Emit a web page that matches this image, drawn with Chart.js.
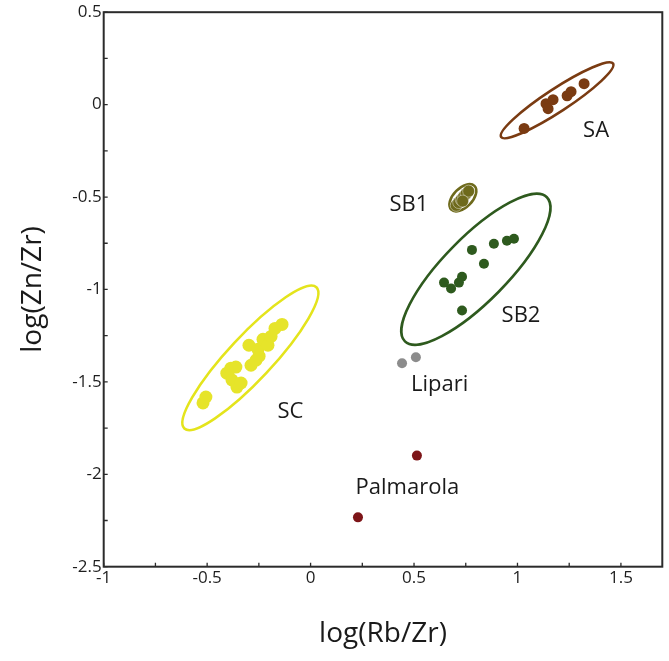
<!DOCTYPE html>
<html lang="en">
<head>
<meta charset="UTF-8">
<title>log(Zn/Zr) vs log(Rb/Zr)</title>
<script src="https://cdn.jsdelivr.net/npm/chart.js"></script>
<style>
  body { margin: 0; background: #fff; }
  .wrap { width: 669px; height: 661px; }
</style>
</head>
<body>
<div class="wrap"><canvas id="chart"></canvas></div>
<script>
// obsidian groups: log(Rb/Zr) on x, log(Zn/Zr) on y
const saX = [1.032, 1.138, 1.148, 1.172, 1.240, 1.259, 1.322];
const saY = [-0.129, 0.005, -0.022, 0.027, 0.048, 0.070, 0.113];

const sb1X = [0.704, 0.716, 0.728, 0.740, 0.752, 0.764, 0.735];
const sb1Y = [-0.545, -0.530, -0.514, -0.498, -0.482, -0.468, -0.522];

const sb2X = [0.645, 0.679, 0.717, 0.732, 0.780, 0.838, 0.886, 0.949, 0.983, 0.732];
const sb2Y = [-0.963, -0.995, -0.963, -0.931, -0.786, -0.861, -0.753, -0.737, -0.726, -1.114];

const scX = [-0.520, -0.506, -0.405, -0.385, -0.361, -0.380, -0.356, -0.336, -0.298,
             -0.288, -0.264, -0.249, -0.254, -0.230, -0.206, -0.191, -0.172, -0.138];
const scY = [-1.614, -1.582, -1.453, -1.426, -1.420, -1.490, -1.528, -1.506, -1.302,
             -1.410, -1.383, -1.361, -1.324, -1.270, -1.302, -1.254, -1.211, -1.189];

const lipariX = [0.442, 0.509];
const lipariY = [-1.399, -1.367];

const palmarolaX = [0.514, 0.229];
const palmarolaY = [-1.899, -2.233];

// group ellipses: the two ends of the long axis
const saEnds = [[0.921, -0.175], [1.462, 0.222]];
const sb1Ends = [[0.680, -0.568], [0.792, -0.440]];
const sb2Ends = [[0.456, -1.281], [1.142, -0.501]];
const scEnds = [[-0.610, -1.752], [0.028, -0.988]];

// group names
const groupNames = ['SA', 'SB1', 'SB2', 'SC', 'Lipari', 'Palmarola'];
const nameX = [1.380, 0.475, 1.017, -0.097, 0.624, 0.468];
const nameY = [-0.140, -0.544, -1.141, -1.660, -1.515, -2.075];

// tick positions (labels only on the halves)
const xTicks = [-1, -0.75, -0.5, -0.25, 0, 0.25, 0.5, 0.75, 1, 1.25, 1.5];
const yTicks = [-2.5, -2.25, -2, -1.75, -1.5, -1.25, -1, -0.75, -0.5, -0.25, 0, 0.25, 0.5];

const toPoints = (xs, ys) => xs.map((x, i) => ({ x: x, y: ys[i] }));

const ellipses = [
    { ends: saEnds, half: 11.5, color: '#7a3b12' },
    { ends: sb1Ends, half: 9.5, color: '#6e6a1c' },
    { ends: sb2Ends, half: 32, color: '#2e5a1e' },
    { ends: scEnds, half: 22, color: '#e4e41c' }
];

const fontFamily = "'Open Sans', sans-serif";
const onHalf = v => Math.abs(v * 2 - Math.round(v * 2)) < 1e-6;

const ellipsePlugin = {
    id: 'ellipses',
    beforeDatasetsDraw(chart) {
        const { ctx, scales: { x, y } } = chart;
        ellipses.forEach(e => {
            const x1 = x.getPixelForValue(e.ends[0][0]);
            const y1 = y.getPixelForValue(e.ends[0][1]);
            const x2 = x.getPixelForValue(e.ends[1][0]);
            const y2 = y.getPixelForValue(e.ends[1][1]);
            const rx = Math.hypot(x2 - x1, y2 - y1) / 2;
            ctx.save();
            ctx.beginPath();
            ctx.ellipse((x1 + x2) / 2, (y1 + y2) / 2, rx, e.half, Math.atan2(y2 - y1, x2 - x1), 0, Math.PI * 2);
            ctx.strokeStyle = e.color;
            ctx.lineWidth = 2.6;
            ctx.stroke();
            ctx.restore();
        });
    }
};

const namePlugin = {
    id: 'groupNames',
    afterDatasetsDraw(chart) {
        const { ctx, scales: { x, y } } = chart;
        ctx.save();
        ctx.font = '22px ' + fontFamily;
        ctx.fillStyle = '#1a1a1a';
        ctx.textAlign = 'center';
        ctx.textBaseline = 'middle';
        groupNames.forEach((n, i) => {
            ctx.fillText(n, x.getPixelForValue(nameX[i]), y.getPixelForValue(nameY[i]));
        });
        ctx.restore();
    }
};

// box round the plot with short inward ticks
const framePlugin = {
    id: 'frame',
    afterDraw(chart) {
        const { ctx, chartArea: a, scales: { x, y } } = chart;
        ctx.save();
        ctx.strokeStyle = '#2b2b2b';
        ctx.lineWidth = 1.3;
        ctx.beginPath();
        x.ticks.forEach(t => {
            const px = x.getPixelForValue(t.value);
            ctx.moveTo(px, a.bottom);
            ctx.lineTo(px, a.bottom - 4);
        });
        y.ticks.forEach(t => {
            const py = y.getPixelForValue(t.value);
            ctx.moveTo(a.left, py);
            ctx.lineTo(a.left + 4, py);
        });
        ctx.stroke();
        ctx.lineWidth = 2;
        ctx.strokeRect(a.left, a.top, a.right - a.left, a.bottom - a.top);
        ctx.restore();
    }
};

const tickLabel = v => onHalf(v) ? String(v) : '';

new Chart(document.getElementById('chart'), {
    type: 'scatter',
    data: {
        datasets: [
            { label: 'SA', data: toPoints(saX, saY), backgroundColor: '#7a3b12', pointRadius: 5.5, borderWidth: 0 },
            { label: 'SB1', data: toPoints(sb1X, sb1Y), backgroundColor: '#6e6a1c', borderColor: 'rgba(255,255,255,0.7)', pointRadius: 6, borderWidth: 0.6 },
            { label: 'SB2', data: toPoints(sb2X, sb2Y), backgroundColor: '#2e5a1e', pointRadius: 5, borderWidth: 0 },
            { label: 'SC', data: toPoints(scX, scY), backgroundColor: '#e6e42a', pointRadius: 6.5, borderWidth: 0 },
            { label: 'Lipari', data: toPoints(lipariX, lipariY), backgroundColor: '#8c8c8c', pointRadius: 5, borderWidth: 0 },
            { label: 'Palmarola', data: toPoints(palmarolaX, palmarolaY), backgroundColor: '#7d1518', pointRadius: 5, borderWidth: 0 }
        ]
    },
    options: {
        responsive: true,
        maintainAspectRatio: false,
        animation: false,
        layout: { padding: { left: 0, right: 6.7, top: 9, bottom: 0 } },
        plugins: {
            legend: { display: false },
            tooltip: { enabled: false }
        },
        scales: {
            x: {
                type: 'linear',
                min: -1,
                max: 1.7,
                afterFit: s => { s.height = 94.3; },
                afterBuildTicks: s => { s.ticks = xTicks.map(v => ({ value: v })); },
                grid: { display: false, drawTicks: false },
                border: { display: false },
                ticks: {
                    autoSkip: false,
                    maxRotation: 0,
                    padding: 1,
                    color: '#1e1e1e',
                    font: { family: fontFamily, size: 17 },
                    callback: tickLabel
                },
                title: {
                    display: true,
                    text: 'log(Rb/Zr)',
                    color: '#1a1a1a',
                    font: { family: fontFamily, size: 28 },
                    padding: { top: 0, bottom: 10 }
                }
            },
            y: {
                type: 'linear',
                min: -2.5,
                max: 0.5,
                afterFit: s => { s.width = 103.7; },
                afterBuildTicks: s => { s.ticks = yTicks.map(v => ({ value: v })); },
                grid: { display: false, drawTicks: false },
                border: { display: false },
                ticks: {
                    autoSkip: false,
                    padding: 2,
                    color: '#1e1e1e',
                    font: { family: fontFamily, size: 17 },
                    callback: tickLabel
                },
                title: {
                    display: true,
                    text: 'log(Zn/Zr)',
                    color: '#1a1a1a',
                    font: { family: fontFamily, size: 28 },
                    padding: { top: 16, bottom: 0 }
                }
            }
        }
    },
    plugins: [ellipsePlugin, namePlugin, framePlugin]
});
</script>
</body>
</html>
